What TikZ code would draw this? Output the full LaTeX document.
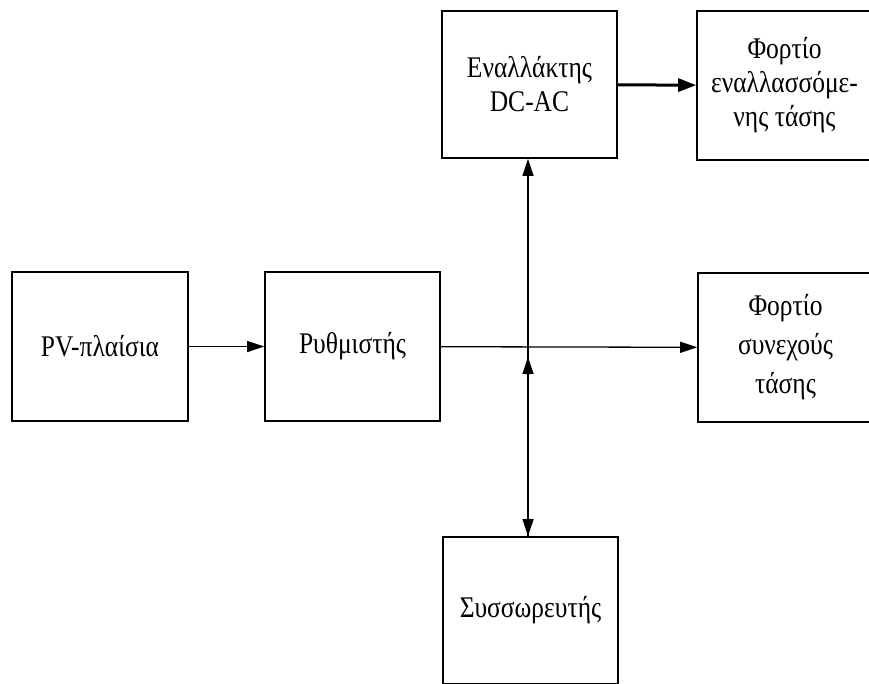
\documentclass[tikz,border=0pt]{standalone}
\usepackage{fontspec}
\setmainfont{Liberation Serif}[FakeStretch=0.85]
\usetikzlibrary{arrows.meta,calc}
\tikzset{
  blk/.style={draw, line width=1.6pt, rectangle, minimum width=175pt, minimum height=148pt, inner sep=0pt, align=center, font=\fontsize{30}{34}\selectfont},
  arr/.style={line width=1.3pt, -{Triangle[length=17pt,width=11pt]}},
  arrthick/.style={line width=3pt, -{Triangle[length=18pt,width=13pt]}}
}
\begin{document}
\begin{tikzpicture}[x=1pt,y=-1pt]
\useasboundingbox (0,0) rectangle (869,683);
\clip (0,0) rectangle (869,683);
\node[blk, minimum width=176pt, minimum height=149pt] (pv) at (100,346.5) {PV-πλαίσια};
\node[blk, minimum height=149pt] (reg) at (352.5,346.5) {Ρυθμιστής};
\node[blk, minimum height=147pt] (inv) at (529.5,84.5) {\raisebox{0pt}{Εναλλάκτης}\\DC-AC};
\node[blk, minimum height=149pt] (ac) at (784.5,85.5) {Φορτίο\\εναλλασσόμε-\\νης τάσης};
\node[blk, minimum height=149pt, font=\fontsize{30}{39}\selectfont] (dc) at (785.5,347.5) {Φορτίο\\συνεχούς\\τάσης};
\node[blk, minimum height=147pt] (bat) at (530.5,610.5) {Συσσωρευτής};
\coordinate (j) at (528,347);
\draw[arr] (pv) -- (reg);
\draw[arr] (reg) -- (dc);
\draw[arr] (j) -- (j |- inv.south);
\draw[arr] (j) -- (j |- bat.north);
\draw[arr, shorten >=10pt] (j |- bat.north) -- (j);
\draw[arrthick] (inv) -- (ac);
\end{tikzpicture}
\end{document}
